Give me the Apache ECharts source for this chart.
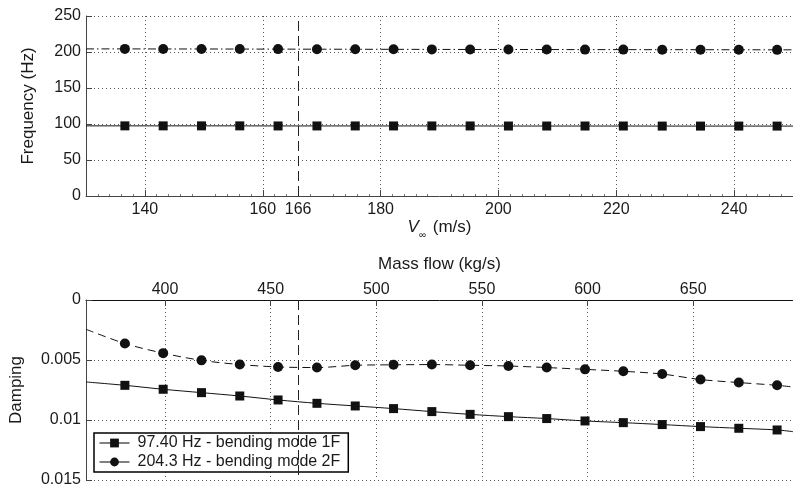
<!DOCTYPE html>
<html>
<head>
<meta charset="utf-8">
<script src="https://cdn.jsdelivr.net/npm/echarts@6/dist/echarts.min.js"></script>
<style>
html, body { margin: 0; padding: 0; background: #fff; }
#chart { width: 793px; height: 488px; }
</style>
</head>
<body>
<div id="chart"></div>
<script>
// measured points (flow speed, m/s)
var velocity = [136.6, 143.1, 149.6, 156.1, 162.6, 169.2, 175.7, 182.2, 188.7,
                195.2, 201.7, 208.2, 214.7, 221.2, 227.8, 234.3, 240.8, 247.3];
var freq1F = [97.4, 97.4, 97.4, 97.4, 97.3, 97.3, 97.3, 97.3, 97.3,
              97.3, 97.2, 97.2, 97.2, 97.2, 97.1, 97.1, 97.1, 97.1];
var freq2F = [204.3, 204.2, 204.2, 204.1, 204.0, 203.9, 203.8, 203.7, 203.6,
              203.5, 203.5, 203.4, 203.3, 203.3, 203.2, 203.2, 203.1, 203.0];
var damp1F = [0.00711, 0.00744, 0.00772, 0.00800, 0.00833, 0.00861, 0.00883, 0.00905, 0.00930,
              0.00953, 0.00972, 0.00988, 0.01008, 0.01022, 0.01038, 0.01055, 0.01069, 0.01083];
var damp2F = [0.00363, 0.00443, 0.00503, 0.00538, 0.00558, 0.00563, 0.00544, 0.00540, 0.00538,
              0.00544, 0.00550, 0.00563, 0.00578, 0.00594, 0.00617, 0.00663, 0.00688, 0.00711];

// fitted curves read at the plot edges
var fitVel = [130, 250];
var fitFreq1F = [97.4, 97.1];
var fitFreq2F = [204.3, 203.0];
var fitDamp1F = [0.00683, 0.01097];
var fitDamp2F = [0.00244, 0.00725];

var velTicks = [140, 160, 180, 200, 220, 240];
var velLabels = [140, 160, 166, 180, 200, 220, 240];
var massTicks = [400, 450, 500, 550, 600, 650];
var massPerVel = 2.789;   // kg/s per m/s
var refVel = 166;

var name1F = '97.40 Hz - bending mode 1F';
var name2F = '204.3 Hz - bending mode 2F';
var FONT = '"Liberation Sans", Arial, Helvetica, sans-serif';
var TXT = '#1a1a1a';

function curve(ys, ends) {
    var d = [{ value: [fitVel[0], ends[0]], symbol: 'none' }];
    for (var i = 0; i < velocity.length; i++) {
        d.push([velocity[i], ys[i]]);
    }
    d.push({ value: [fitVel[1], ends[1]], symbol: 'none' });
    return d;
}

var dotted = { show: true, lineStyle: { color: '#555', type: [1, 3], width: 1 } };
var refLine = {
    silent: true, symbol: 'none', label: { show: false },
    lineStyle: { color: '#222', type: [10, 5], width: 1 },
    data: [{ xAxis: refVel }]
};

var chart = echarts.init(document.getElementById('chart'));
var option = {
    animation: false,
    backgroundColor: '#fff',
    textStyle: { fontFamily: FONT, color: TXT },
    grid: [
        { left: 86, top: 16, width: 709, height: 180 },
        { left: 86, top: 300, width: 709, height: 180 }
    ],
    legend: {
        left: 94, top: 433,
        orient: 'vertical',
        data: [name1F, name2F],
        backgroundColor: '#fff',
        borderColor: '#000', borderWidth: 1.5,
        padding: [2, 8, 2, 5],
        itemGap: 3,
        itemWidth: 30, itemHeight: 11,
        lineStyle: { type: 'solid', width: 1, color: '#000' },
        textStyle: { fontSize: 16, color: TXT, fontFamily: FONT, padding: [0, 0, 0, 3] }
    },
    xAxis: [
        {
            gridIndex: 0, type: 'value', min: 130, max: 250, interval: 10,
            name: '{v|V}{s|\u221e} (m/s)', nameLocation: 'middle', nameGap: 19,
            nameTextStyle: {
                fontSize: 17, color: TXT,
                rich: {
                    v: { fontSize: 17, fontStyle: 'italic', color: TXT },
                    s: { fontSize: 10, color: TXT, padding: [15, 2, 0, 0] }
                }
            },
            axisLine: { lineStyle: { color: '#444' } },
            axisTick: { customValues: velTicks, inside: true, length: 6, lineStyle: { color: '#444' } },
            minorTick: { show: true, splitNumber: 5, length: 2, lineStyle: { color: '#777' } },
            axisLabel: { customValues: velLabels, fontSize: 16, color: TXT, margin: 6 },
            splitLine: dotted
        },
        {
            gridIndex: 1, type: 'value', min: 130, max: 250, show: false,
            splitLine: { show: false }
        },
        {
            gridIndex: 1, type: 'value', position: 'top',
            min: 130 * massPerVel, max: 250 * massPerVel,
            name: 'Mass flow (kg/s)', nameLocation: 'middle', nameGap: 27,
            nameTextStyle: { fontSize: 17, color: TXT },
            axisLine: { lineStyle: { color: '#111' } },
            axisTick: { customValues: massTicks, inside: true, length: 6, lineStyle: { color: '#444' } },
            axisLabel: { customValues: massTicks, fontSize: 16, color: TXT, margin: 2 },
            splitLine: dotted
        }
    ],
    yAxis: [
        {
            gridIndex: 0, type: 'value', min: 0, max: 250, interval: 50,
            name: 'Frequency (Hz)', nameLocation: 'middle', nameGap: 49,
            nameTextStyle: { fontSize: 17, color: TXT },
            axisLine: { show: true, lineStyle: { color: '#444' } },
            axisTick: { show: true, inside: true, length: 6, lineStyle: { color: '#444' } },
            axisLabel: { fontSize: 16, color: TXT, margin: 5 },
            splitLine: dotted
        },
        {
            gridIndex: 1, type: 'value', min: 0, max: 0.015, interval: 0.005, inverse: true,
            name: 'Damping', nameLocation: 'middle', nameGap: 61,
            nameTextStyle: { fontSize: 17, color: TXT },
            axisLine: { show: true, lineStyle: { color: '#444' } },
            axisTick: { show: true, inside: true, length: 6, lineStyle: { color: '#444' } },
            axisLabel: { fontSize: 16, color: TXT, margin: 5 },
            splitLine: dotted
        }
    ],
    series: [
        {
            name: name1F, type: 'line', xAxisIndex: 0, yAxisIndex: 0,
            data: curve(freq1F, fitFreq1F),
            symbol: 'rect', symbolSize: 9,
            itemStyle: { color: '#111' },
            lineStyle: { color: '#111', width: 1 },
            markLine: refLine
        },
        {
            name: name2F, type: 'line', xAxisIndex: 0, yAxisIndex: 0,
            data: curve(freq2F, fitFreq2F),
            symbol: 'circle', symbolSize: 10,
            itemStyle: { color: '#111' },
            lineStyle: { color: '#111', width: 1, type: [8, 3, 1.5, 3] }
        },
        {
            name: name1F, type: 'line', xAxisIndex: 1, yAxisIndex: 1,
            data: curve(damp1F, fitDamp1F), smooth: 0.3,
            symbol: 'rect', symbolSize: 9,
            itemStyle: { color: '#111' },
            lineStyle: { color: '#111', width: 1 },
            markLine: refLine
        },
        {
            name: name2F, type: 'line', xAxisIndex: 1, yAxisIndex: 1,
            data: curve(damp2F, fitDamp2F), smooth: 0.3,
            symbol: 'circle', symbolSize: 10,
            itemStyle: { color: '#111' },
            lineStyle: { color: '#111', width: 1, type: [8, 5] }
        }
    ]
};
chart.setOption(option);
</script>
</body>
</html>
